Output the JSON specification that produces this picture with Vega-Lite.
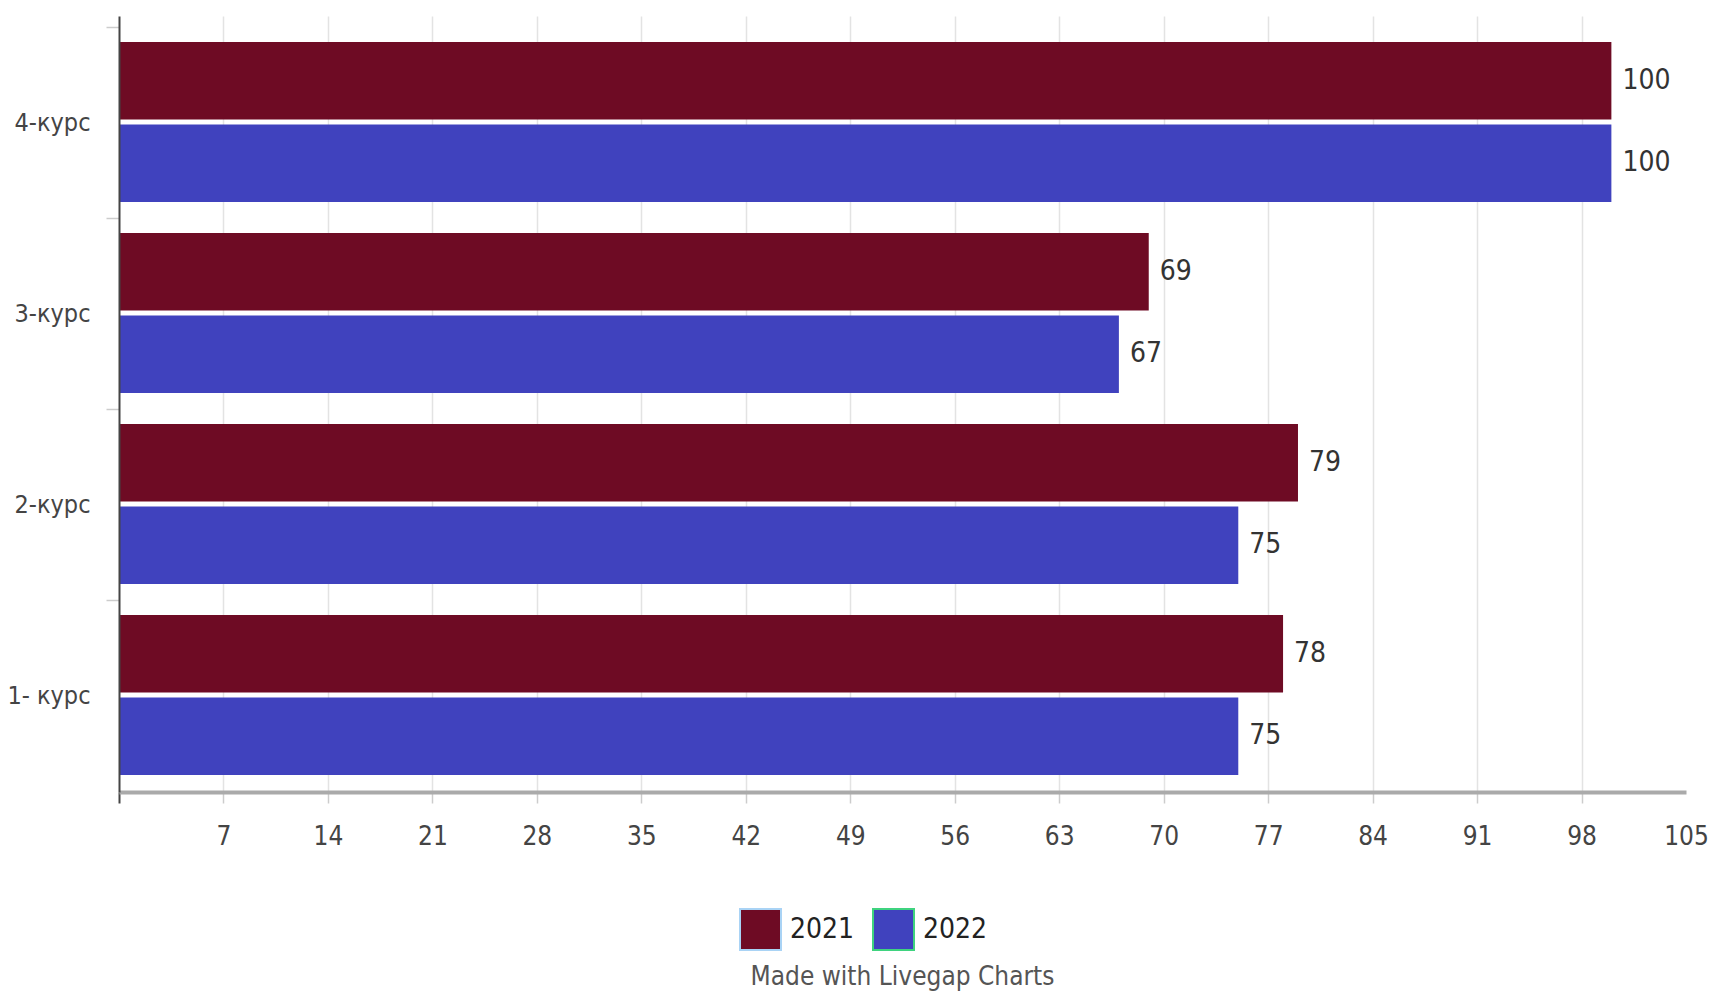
{
  "$schema": "https://vega.github.io/schema/vega-lite/v6.json",
  "width": 1567,
  "height": 776,
  "autosize": "none",
  "padding": {"left": 119, "top": 16, "right": 23, "bottom": 199},
  "background": "white",
  "config": {
    "view": {"stroke": null},
    "font": "DejaVu Sans Condensed, Liberation Sans Narrow, sans-serif"
  },
  "data": {
    "values": [
      {"course": "4-курс", "year": "2021", "value": 100},
      {"course": "4-курс", "year": "2022", "value": 100},
      {"course": "3-курс", "year": "2021", "value": 69},
      {"course": "3-курс", "year": "2022", "value": 67},
      {"course": "2-курс", "year": "2021", "value": 79},
      {"course": "2-курс", "year": "2022", "value": 75},
      {"course": "1- курс", "year": "2021", "value": 78},
      {"course": "1- курс", "year": "2022", "value": 75}
    ]
  },
  "encoding": {
    "y": {
      "field": "course",
      "type": "nominal",
      "sort": ["4-курс", "3-курс", "2-курс", "1- курс"],
      "scale": {"paddingInner": 0, "paddingOuter": 0.0314, "align": 1},
      "axis": {
        "title": null,
        "domainColor": "#444444",
        "domainWidth": 2,
        "ticks": true,
        "tickColor": "#cccccc",
        "tickSize": 13,
        "tickWidth": 1.5,
        "bandPosition": 0,
        "labelFontSize": 25,
        "labelColor": "#444444",
        "labelPadding": 16,
        "zindex": 1
      }
    },
    "yOffset": {
      "field": "year",
      "type": "nominal",
      "scale": {"paddingInner": 0.06, "paddingOuter": 0.188, "align": 0.45}
    },
    "x": {
      "field": "value",
      "type": "quantitative",
      "scale": {"domain": [0, 105], "nice": false},
      "axis": {
        "title": null,
        "values": [0, 7, 14, 21, 28, 35, 42, 49, 56, 63, 70, 77, 84, 91, 98, 105],
        "grid": true,
        "gridColor": {"condition": {"test": "datum.value == 105 || datum.value == 0", "value": "transparent"}, "value": "#e3e3e3"},
        "gridWidth": 1.5,
        "domainColor": "#aaaaaa",
        "domainWidth": 4,
        "tickColor": {"condition": [{"test": "datum.value == 0", "value": "#444444"}, {"test": "datum.value == 105", "value": "transparent"}], "value": "#cccccc"},
        "tickWidth": {"condition": {"test": "datum.value == 0", "value": 2}, "value": 1.5},
        "tickSize": 11,
        "labelExpr": "datum.value == 0 ? '' : datum.label",
        "labelFontSize": 26,
        "labelColor": "#444444",
        "labelPadding": 20,
        "labelFlush": false,
        "labelOverlap": false,
        "zindex": 0
      }
    }
  },
  "layer": [
    {
      "mark": {"type": "bar", "strokeWidth": 0},
      "encoding": {
        "color": {
          "field": "year",
          "type": "nominal",
          "scale": {"domain": ["2021", "2022"], "range": ["#6e0b24", "#4042be"]},
          "legend": {
            "orient": "none",
            "legendX": 620,
            "legendY": 892,
            "direction": "horizontal",
            "title": null,
            "symbolType": "square",
            "symbolSize": 1681,
            "symbolStrokeWidth": 2,
            "symbolOpacity": 1,
            "labelFontSize": 28,
            "labelColor": "#222222",
            "labelOffset": 8,
            "columnPadding": 14
          }
        },
        "stroke": {
          "field": "year",
          "type": "nominal",
          "scale": {"domain": ["2021", "2022"], "range": ["#a9d3f5", "#3fd37f"]},
          "legend": {
            "orient": "none",
            "legendX": 620,
            "legendY": 892,
            "direction": "horizontal",
            "title": null,
            "symbolType": "square",
            "symbolSize": 1681,
            "symbolStrokeWidth": 2,
            "symbolOpacity": 1,
            "labelFontSize": 28,
            "labelColor": "#222222",
            "labelOffset": 8,
            "columnPadding": 14
          }
        }
      }
    },
    {
      "mark": {"type": "text", "align": "left", "baseline": "middle", "dx": 11, "fontSize": 28, "color": "#333333"},
      "encoding": {"text": {"field": "value", "type": "quantitative"}}
    }
  ],
  "title": {
    "text": "Made with Livegap Charts",
    "orient": "bottom",
    "anchor": "middle",
    "fontSize": 26,
    "fontWeight": "normal",
    "color": "#555555",
    "offset": 10
  }
}
